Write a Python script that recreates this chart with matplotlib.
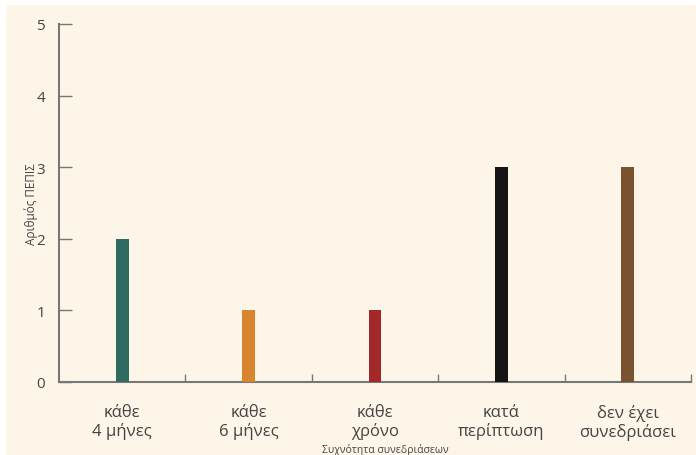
import matplotlib.pyplot as plt
from matplotlib.patches import Rectangle

categories = ['κάθε\n4 μήνες', 'κάθε\n6 μήνες', 'κάθε\nχρόνο', 'κατά\nπερίπτωση', 'δεν έχει\nσυνεδριάσει']
counts = [2, 1, 1, 3, 3]
colors = ['#2f6b60', '#d9852e', '#a3282a', '#161414', '#7a5230']
yticks = [0, 1, 2, 3, 4, 5]

plt.rcParams['font.family'] = ['Open Sans', 'DejaVu Sans']

fig = plt.figure(figsize=(6.96, 4.56), dpi=100)
fig.patch.set_facecolor('white')
# cream panel, white margin top and left
fig.patches.append(Rectangle((6 / 696, 0), 1, 1 - 6 / 456, transform=fig.transFigure,
                             facecolor='#fdf6e8', edgecolor='none', zorder=-10))

ax = fig.add_axes([59 / 696, 73 / 456, 632 / 696, 358 / 456])
ax.set_facecolor('none')

x = list(range(len(categories)))
ax.bar(x, counts, width=0.1, color=colors, zorder=3)

ax.set_xlim(-0.5, len(categories) - 0.5)
ax.set_ylim(0, 5)
ax.set_yticks(yticks)
ax.set_xticks(x)
ax.set_xticklabels(categories, fontsize=12, color='#444444', linespacing=1.1)
ax.set_xticks([i + 0.5 for i in x], minor=True)
ax.tick_params(axis='x', which='major', length=0, pad=16)
ax.tick_params(axis='x', which='minor', direction='in', length=6, width=1, color='#777777')
ax.tick_params(axis='y', direction='in', length=9, width=1, color='#777777',
               labelsize=11, labelcolor='#444444', pad=10)

for s in ['top', 'right']:
    ax.spines[s].set_visible(False)
for s in ['left', 'bottom']:
    ax.spines[s].set_color('#777777')
    ax.spines[s].set_linewidth(1.5)

ax.set_ylabel('Αριθμός ΠΕΠΙΣ', fontsize=8.5, color='#444444')
ax.yaxis.set_label_coords(-0.034, 0.5)
fig.text(385 / 696, 0, 'Συχνότητα συνεδριάσεων', fontsize=7.5, color='#444444',
         ha='center', va='bottom')

fig.savefig('out.png', dpi=100, facecolor=fig.get_facecolor())
